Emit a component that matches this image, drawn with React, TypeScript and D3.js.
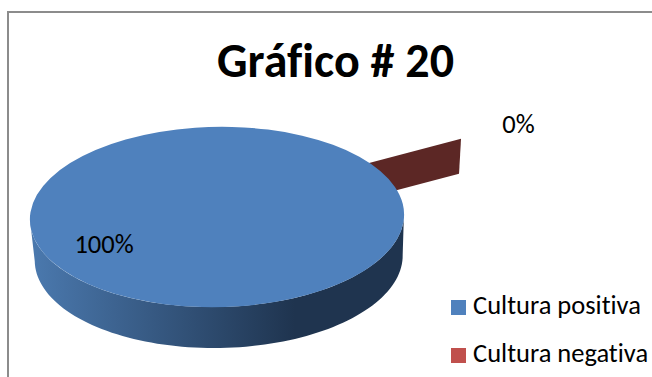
import React from "react";
import * as d3 from "d3";

// Chart content
const categories = ["Cultura positiva", "Cultura negativa"];
const shares = [100, 0];
const shareLabels = ["100%", "0%"];
const colours = ["#4f81bd", "#c0504d"];
const chartTitle = "Gráfico # 20";

const WIDTH = 652;
const HEIGHT = 377;
const FONT = "Carlito, Calibri, 'Open Sans', 'Noto Sans', sans-serif";

// Projection of the tilted disc
const cx = 217;
const cy = 217;
const rx = 187;
const ry = 90;
const baseCx = 218;
const baseCy = 258;
const baseRx = 184;
const baseRy = 90;
const discTilt = -1;

// The first slice starts where the empty slice is pulled out of the disc
const rotation = (61.3 * Math.PI) / 180;
const explodeX = 80;
const explodeY = -35;
const wallDepth = 35;

const slices = d3
  .pie<number>()
  .sort(null)
  .startAngle(rotation)
  .endAngle(rotation + 2 * Math.PI)(shares);

const discTop = d3
  .arc<d3.PieArcDatum<number>>()
  .innerRadius(0)
  .outerRadius(rx)
  .startAngle((d) => d.startAngle)
  .endAngle((d) => d.endAngle);

// Visible rim: the front half of the top ellipse joined to the front half of the base ellipse
const rimPath = (() => {
  const p = d3.path();
  p.moveTo(cx - rx, cy);
  p.lineTo(baseCx - baseRx, baseCy);
  const steps = 90;
  const angle = d3.scaleLinear().domain([0, steps]).range([Math.PI, 0]);
  d3.range(steps + 1).forEach((i) => {
    const a = angle(i);
    p.lineTo(baseCx + baseRx * Math.cos(a), baseCy + baseRy * Math.sin(a));
  });
  p.lineTo(cx + rx, cy);
  d3.range(steps + 1).forEach((i) => {
    const a = angle(steps - i);
    p.lineTo(cx + rx * Math.cos(a), cy + ry * Math.sin(a));
  });
  p.closePath();
  return p.toString();
})();

// A zero-width slice only shows its cut wall, running from the hub to the edge
const wallPath = (startAngle: number) => {
  const hubX = cx + explodeX;
  const hubY = cy + explodeY;
  const outerX = hubX + rx * Math.sin(startAngle);
  const outerY = hubY - ry * Math.cos(startAngle);
  const p = d3.path();
  p.moveTo(hubX, hubY);
  p.lineTo(outerX, outerY);
  p.lineTo(outerX - 2, outerY + wallDepth);
  p.lineTo(hubX - 2, hubY + wallDepth);
  p.closePath();
  return p.toString();
};

const legendY = d3.scalePoint<string>().domain(categories).range([307.5, 355.5]);

export default function App() {
  return (
    <svg
      width={WIDTH}
      height={HEIGHT}
      viewBox={`0 0 ${WIDTH} ${HEIGHT}`}
      style={{ position: "fixed", left: 0, top: 0, background: "#fff", fontVariantLigatures: "none" }}
      fontFamily={FONT}
    >
      <defs>
        <linearGradient id="rimShade" gradientUnits="userSpaceOnUse" x1={34} x2={404} y1={0} y2={0}>
          <stop offset="0" stopColor="#4a78ad" />
          <stop offset="0.7" stopColor="#1f344f" />
          <stop offset="1" stopColor="#1f344f" />
        </linearGradient>
      </defs>

      {/* Chart frame: only the top and left edges are visible */}
      <path d="M8 377V12H652" fill="none" stroke="#8c8c8c" strokeWidth={2} />

      <text x={335.5} y={77} fontSize={48} fontWeight={700} textAnchor="middle" fill="#000">
        {chartTitle}
      </text>

      <path d={wallPath(slices[1].startAngle)} fill="#5c2725" />
      <path d={rimPath} fill="url(#rimShade)" transform={`rotate(${discTilt},${cx},${cy})`} />
      <path
        d={discTop(slices[0]) ?? ""}
        transform={`rotate(${discTilt},${cx},${cy}) translate(${cx},${cy}) scale(1,${ry / rx})`}
        fill={colours[0]}
      />

      <text x={104} y={253} fontSize={26.5} textAnchor="middle" fill="#000">
        {shareLabels[0]}
      </text>
      <text x={518.5} y={133} fontSize={26.5} textAnchor="middle" fill="#000">
        {shareLabels[1]}
      </text>

      {categories.map((name, i) => (
        <g key={name}>
          <rect x={451} y={(legendY(name) ?? 0) - 7.5} width={15} height={15} fill={colours[i]} />
          <text x={473} y={(legendY(name) ?? 0) + 6.5} fontSize={26.5} fill="#000">
            {name}
          </text>
        </g>
      ))}
    </svg>
  );
}
